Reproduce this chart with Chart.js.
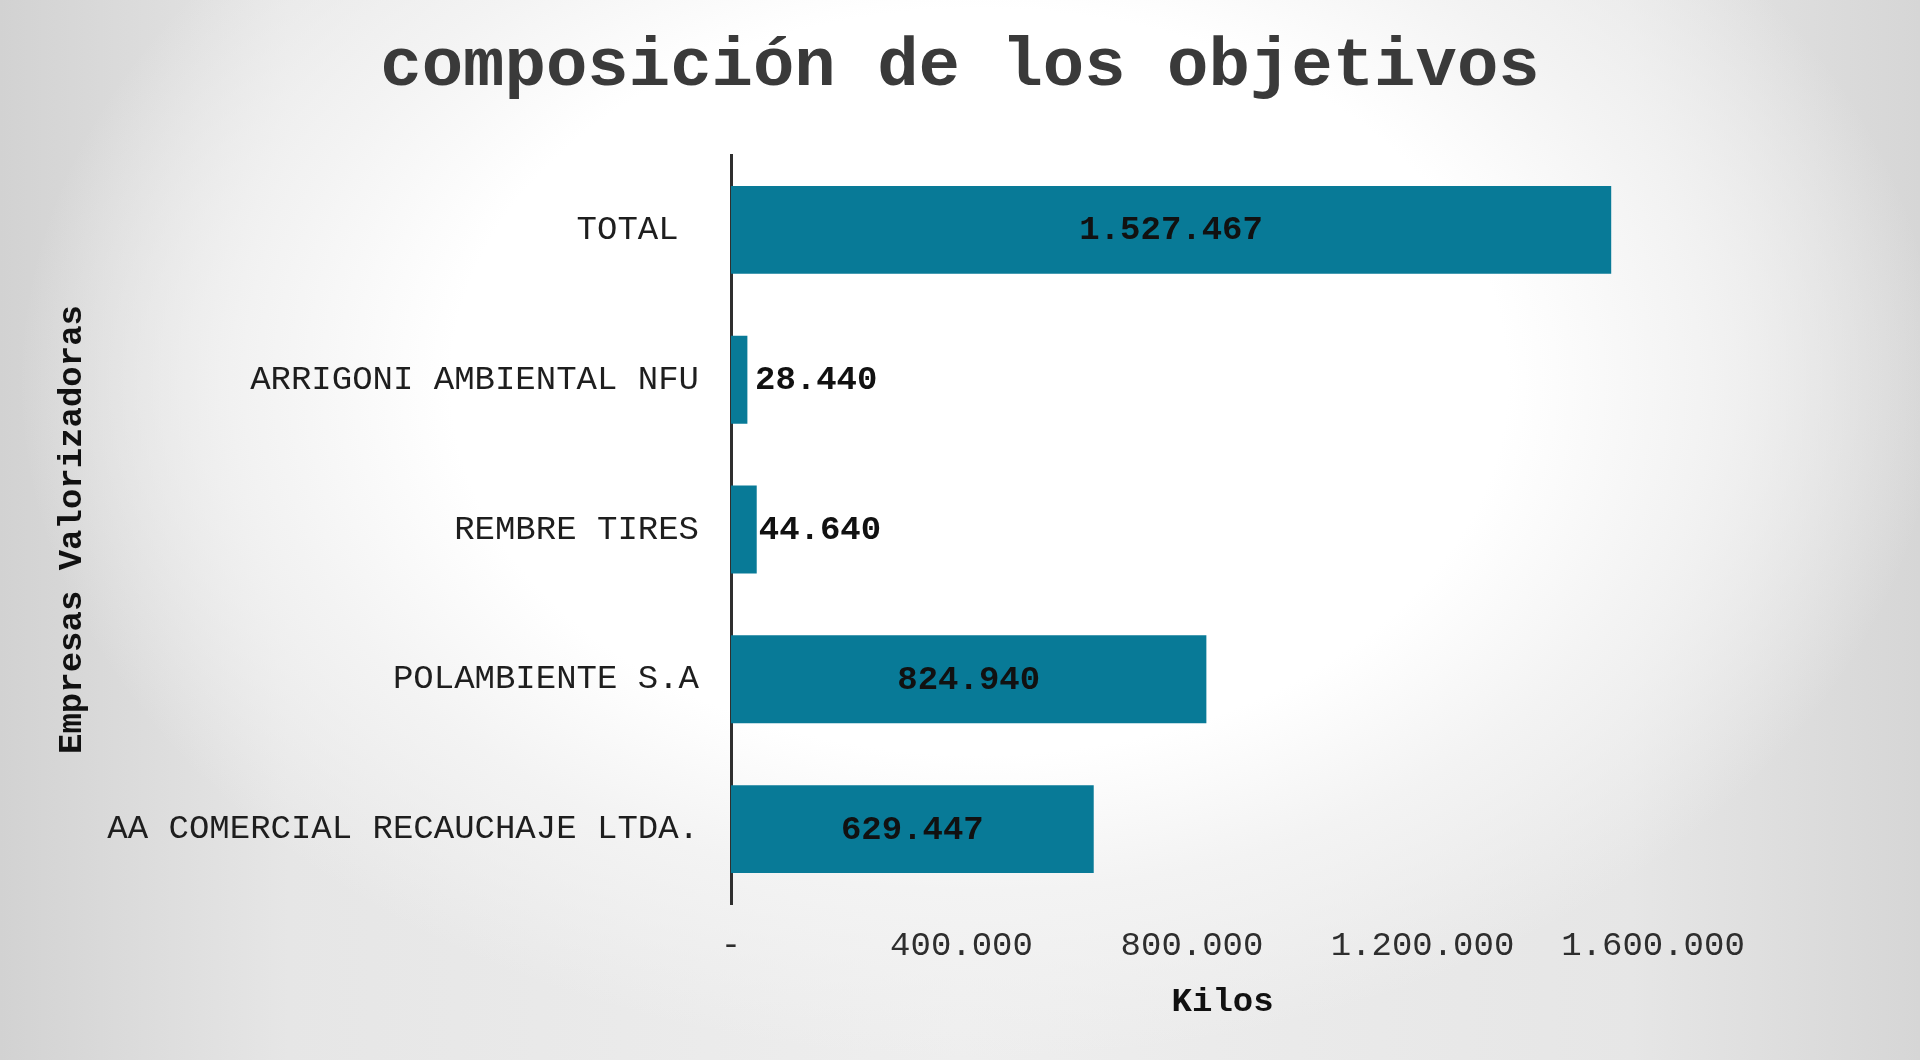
<!DOCTYPE html>
<html>
<head>
<meta charset="utf-8">
<script src="https://cdn.jsdelivr.net/npm/chart.js@4.4.1/dist/chart.umd.min.js"></script>
<style>
  html, body { margin:0; padding:0; width:1920px; height:1060px; overflow:hidden; }
  body {
    background:
      radial-gradient(ellipse 50% 64% at 51% 36%, #ffffff 0%, #ffffff 55%, #f3f3f3 75%, rgba(243,243,243,0) 100%),
      linear-gradient(90deg, #d2d2d2 0%, #e6e6e6 15%, #eeeeee 50%, #e6e6e6 85%, #d6d6d6 100%);
  }
  #wrap { position:absolute; left:0; top:0; width:1920px; height:1060px; }
</style>
</head>
<body>
<div id="wrap"><canvas id="c" width="1920" height="1060"></canvas></div>
<script>
const chartTitle = 'composición de los objetivos';
const categories = ['TOTAL ', 'ARRIGONI AMBIENTAL NFU', 'REMBRE TIRES', 'POLAMBIENTE S.A', 'AA COMERCIAL RECAUCHAJE LTDA.'];
const kilos = [1527467, 28440, 44640, 824940, 629447];
const xTicks = [0, 400000, 800000, 1200000, 1600000];
const xTitle = '   Kilos';
const yTitle = 'Empresas Valorizadoras';

const MONO = '"Liberation Mono", "Courier New", monospace';

function fmt(v) {
  if (v === 0) return '-';
  return String(Math.round(v)).replace(/\B(?=(\d{3})+(?!\d))/g, '.');
}

const barLabels = {
  id: 'barLabels',
  afterDatasetsDraw(chart) {
    const ctx = chart.ctx;
    const meta = chart.getDatasetMeta(0);
    ctx.save();
    ctx.font = 'bold 34px ' + MONO;
    ctx.fillStyle = '#111111';
    ctx.textBaseline = 'middle';
    meta.data.forEach((bar, i) => {
      const txt = fmt(kilos[i]);
      const w = ctx.measureText(txt).width;
      const left = bar.base;
      const right = bar.x;
      if (right - left > w + 20) {
        ctx.textAlign = 'center';
        ctx.fillText(txt, (left + right) / 2, bar.y + 1);
      } else {
        ctx.textAlign = 'left';
        ctx.fillText(txt, Math.max(right + 2, left + 24), bar.y + 1);
      }
    });
    ctx.restore();
  }
};

new Chart(document.getElementById('c'), {
  type: 'bar',
  data: {
    labels: categories,
    datasets: [{
      data: kilos,
      backgroundColor: '#087a97',
      borderWidth: 0,
      categoryPercentage: 1.0,
      barPercentage: 0.587
    }]
  },
  plugins: [barLabels],
  options: {
    indexAxis: 'y',
    responsive: false,
    animation: false,
    devicePixelRatio: 1,
    layout: { padding: { left: 0, right: 0, top: 0, bottom: 0 } },
    plugins: {
      legend: { display: false },
      tooltip: { enabled: false },
      title: {
        display: true,
        text: chartTitle,
        color: '#3a3a3a',
        font: { family: MONO, size: 69, weight: 'bold', lineHeight: 1.2 },
        padding: { top: 26, bottom: 46.2 }
      }
    },
    scales: {
      x: {
        min: 0,
        max: 1600000,
        afterBuildTicks(scale) { scale.ticks = xTicks.map(v => ({ value: v })); },
        afterFit(scale) { scale.height = 156; },
        grid: { display: false, drawTicks: false },
        border: { display: false },
        ticks: {
          color: '#2e2e2e',
          padding: 22,
          font: { family: MONO, size: 34 },
          callback: (v) => fmt(v)
        },
        title: {
          display: true,
          text: xTitle,
          color: '#111111',
          font: { family: MONO, size: 34, weight: 'bold', lineHeight: 1.2 },
          padding: { top: 0, bottom: 37 }
        }
      },
      y: {
        afterFit(scale) { scale.width = 731; },
        grid: { display: false, drawTicks: false },
        border: { display: true, color: '#2f2f2f', width: 3 },
        ticks: {
          color: '#1e1e1e',
          padding: 32,
          font: { family: MONO, size: 34 }
        },
        title: {
          display: true,
          text: yTitle,
          color: '#111111',
          font: { family: MONO, size: 34, weight: 'bold', lineHeight: 1.2 },
          padding: { top: 51.6, bottom: 0 }
        }
      },
      yRight: {
        axis: 'y',
        type: 'linear',
        position: 'right',
        display: true,
        afterFit(scale) { scale.width = 267; },
        grid: { display: false, drawTicks: false },
        border: { display: false },
        ticks: { display: false }
      }
    }
  }
});
</script>
</body>
</html>
